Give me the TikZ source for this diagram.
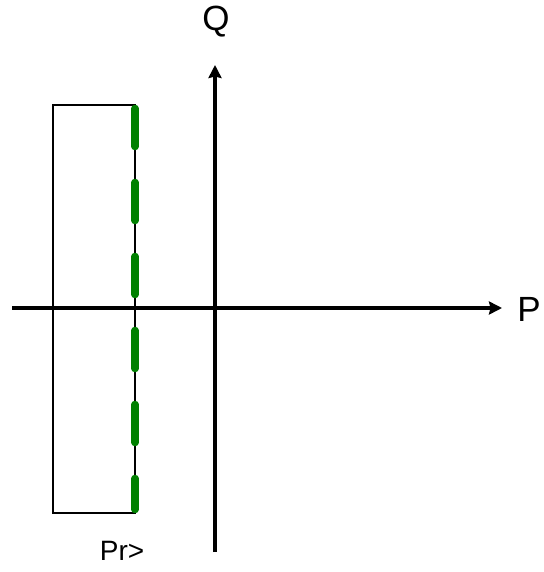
\documentclass[tikz,border=0pt]{standalone}
\usepackage{fontspec}
\setmainfont{Liberation Sans}
\usetikzlibrary{arrows.meta}
\begin{document}
\begin{tikzpicture}[x=1pt,y=-1pt,
  axis/.style={line width=3.4pt,-{Stealth[length=13pt,width=13pt,inset=1.5pt]}},
  boxline/.style={line width=2pt},
  greendash/.style={draw=green!50!black,line width=7.5pt,line cap=round,dash pattern=on 38pt off 36pt},
  lbl/.style={inner sep=0pt,font=\fontsize{35pt}{35pt}\selectfont}]
\useasboundingbox (0,0) rectangle (543,572);
\coordinate (hl) at (12,308);
\coordinate (hr) at (502,308);
\coordinate (vb) at (215,552);
\coordinate (vt) at (215,65);
\draw[boxline] (135,105) -- (53,105) -- (53,513) -- (135,513) -- cycle;
\draw[greendash] (135,108.5) -- (135,509.5);
\draw[axis] (hl) -- (hr);
\draw[axis] (vb) -- (vt);
\node[lbl] (q) at (216,22) {Q};
\node[lbl] (p) at (529,309) {P};
\node[inner sep=0pt,font=\fontsize{28pt}{28pt}\selectfont] (pr) at (122,551) {Pr>};
\end{tikzpicture}
\end{document}
